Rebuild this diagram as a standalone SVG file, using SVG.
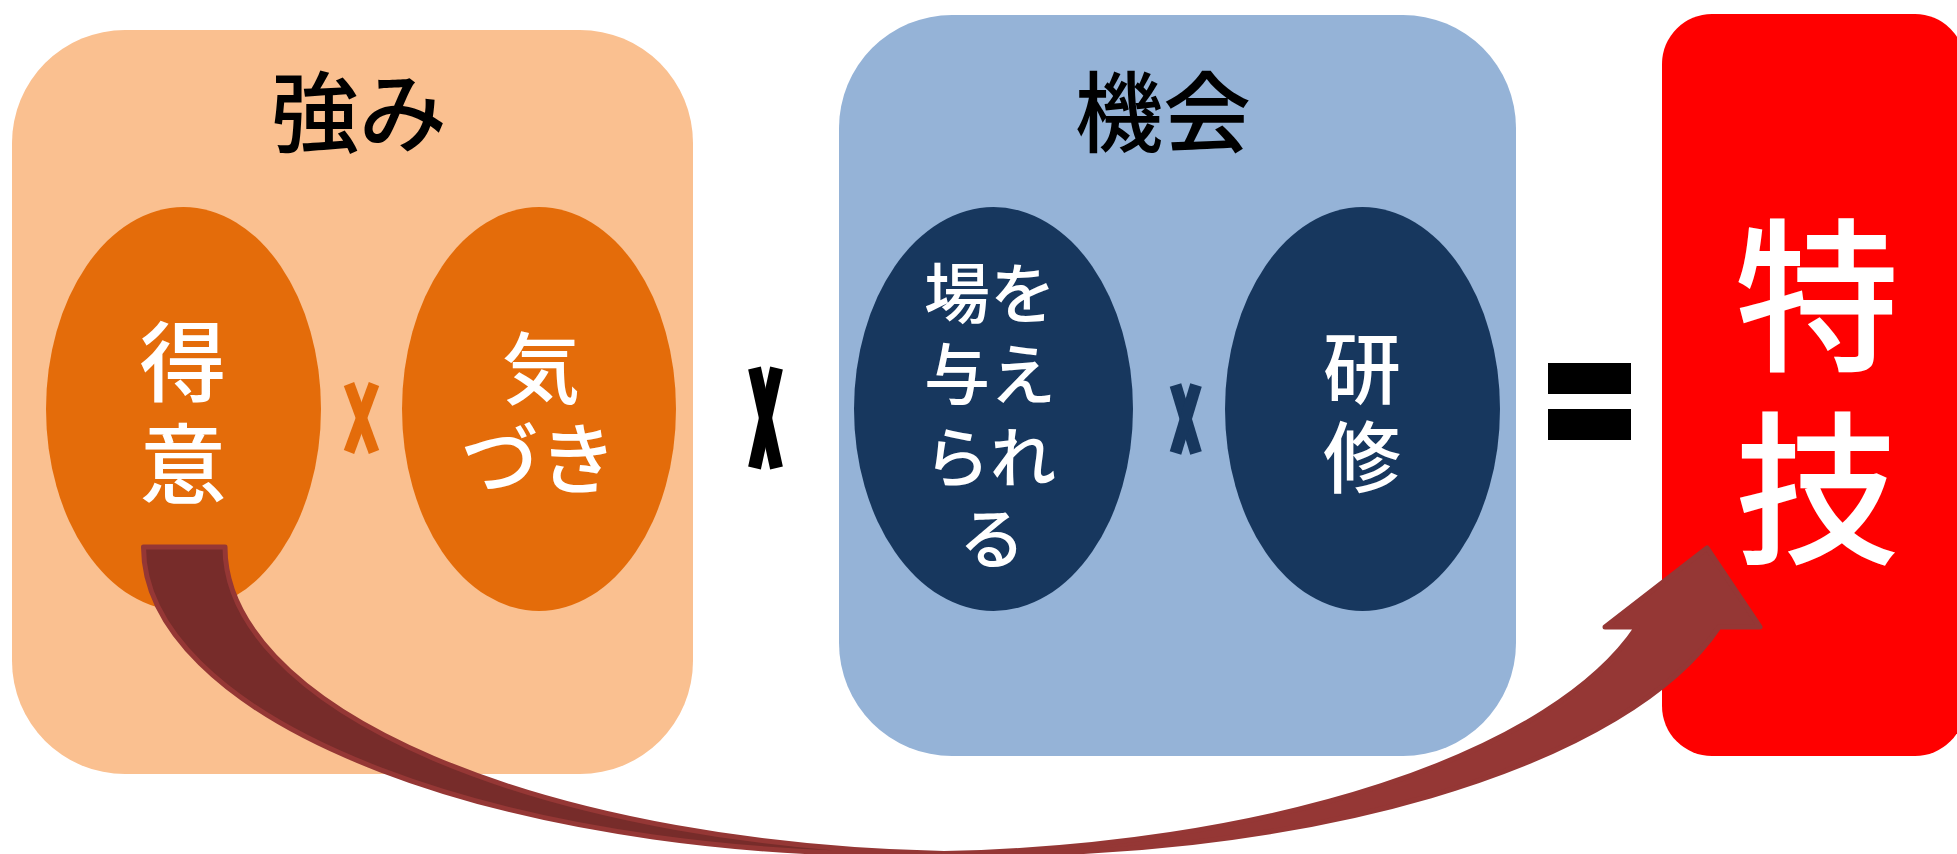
<svg xmlns="http://www.w3.org/2000/svg" width="1957" height="854" viewBox="0 0 1957 854">
<style>
.t{font-family:'Noto Sans CJK JP','Noto Sans CJK SC',sans-serif;text-anchor:middle;font-weight:500}
.title{font-size:88px;fill:#000}
.wt{fill:#fff}
.x{stroke-linecap:butt;fill:none}
.back{fill:#772C2A;stroke:#953735;stroke-width:5;stroke-linejoin:round}
.front{fill:#953735;stroke:#953735;stroke-width:5;stroke-linejoin:round}
</style>
<rect width="1957" height="854" fill="#fff"/>
<g id="strengths">
  <rect x="12" y="30" width="681" height="744" rx="113" ry="113" fill="#FAC090"/>
  <text class="t title" x="359" y="145">強み</text>
</g>
<g id="tokui">
  <ellipse cx="183.5" cy="409" rx="137.5" ry="202" fill="#E46C0A"/>
  <text class="t wt" font-size="87"><tspan x="183" y="395">得</tspan><tspan x="183" y="497">意</tspan></text>
</g>
<g id="kizuki">
  <ellipse cx="539" cy="409" rx="137" ry="202" fill="#E46C0A"/>
  <text class="t wt" font-size="78"><tspan x="541" y="398">気</tspan><tspan x="539" y="488">づき</tspan></text>
</g>
<g id="times-orange">
  <line class="x" x1="349" y1="384" x2="374" y2="452" stroke="#E46C0A" stroke-width="11"/>
  <line class="x" x1="374" y1="384" x2="349" y2="452" stroke="#E46C0A" stroke-width="11"/>
</g>
<g id="times-black">
  <line class="x" x1="754.5" y1="368" x2="776.5" y2="468" stroke="#000" stroke-width="13"/>
  <line class="x" x1="776.5" y1="368" x2="754.5" y2="468" stroke="#000" stroke-width="13"/>
</g>
<g id="opportunity">
  <rect x="839" y="15" width="677" height="741" rx="113" ry="113" fill="#95B3D7"/>
  <text class="t title" x="1163" y="145">機会</text>
</g>
<g id="ba">
  <ellipse cx="993.5" cy="409" rx="139.5" ry="202" fill="#17375E"/>
  <text class="t wt" font-size="66"><tspan x="990" y="318">場を</tspan><tspan x="990" y="399">与え</tspan><tspan x="990" y="482">られ</tspan><tspan x="992" y="563">る</tspan></text>
</g>
<g id="kenshu">
  <ellipse cx="1362.5" cy="409" rx="137.5" ry="202" fill="#17375E"/>
  <text class="t wt" font-size="78"><tspan x="1362" y="398">研</tspan><tspan x="1362" y="487">修</tspan></text>
</g>
<g id="times-blue">
  <line class="x" x1="1175.5" y1="385" x2="1196" y2="453" stroke="#17375E" stroke-width="12"/>
  <line class="x" x1="1196" y1="385" x2="1175.5" y2="453" stroke="#17375E" stroke-width="12"/>
</g>
<g id="equals">
  <rect x="1548" y="363" width="83" height="31" fill="#000"/>
  <rect x="1548" y="409" width="83" height="31" fill="#000"/>
</g>
<g id="tokugi">
  <rect x="1662" y="14" width="303" height="742" rx="50" ry="50" fill="#FF0000"/>
  <text class="t wt" font-size="165"><tspan x="1817" y="358">特</tspan><tspan x="1817" y="551">技</tspan></text>
</g>
<g id="connectors">
  <path class="back" d="M143.5,547 A760,307 0 0 0 944,853.6 A760,307 0 0 1 225,547 Z"/>
  <path class="front" d="M944,853.6 A760,307 0 0 0 1637,627 L1605,627 L1707,548 L1760,627 L1719,627 A760,307 0 0 1 944,853.6 Z"/>
</g>
</svg>
